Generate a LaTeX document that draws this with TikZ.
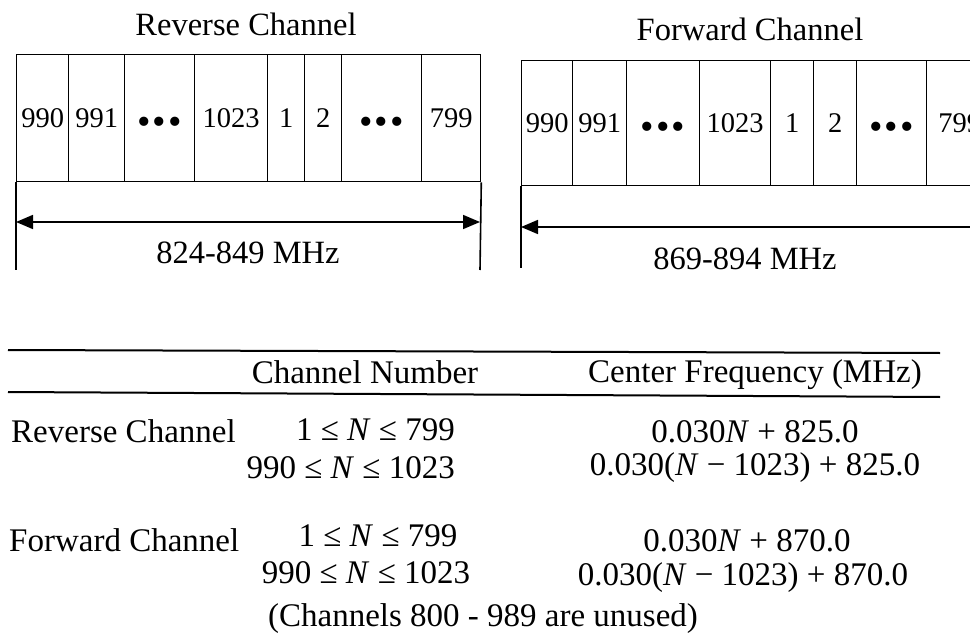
\documentclass[tikz,border=0pt]{standalone}
\usepackage{fontspec}
\setmainfont{Liberation Serif}
\usetikzlibrary{arrows.meta}
\newcommand\onedot{\raisebox{-7pt}[0pt][0pt]{\scalebox{1.35}{\textbullet}}}
\newcommand\tridots{\vphantom{0}\onedot\kern2pt\onedot\kern2pt\onedot}
\begin{document}
\begin{tikzpicture}[x=1pt,y=-1pt,
  cell/.style={draw, line width=1.3pt, anchor=north west, inner sep=0pt, font=\fontsize{28.5}{28.5}\selectfont},
  frame/.style={line width=1.6pt},
  span/.style={line width=1.6pt, {Triangle[length=17pt,width=14pt]}-{Triangle[length=17pt,width=14pt]}},
  title/.style={font=\fontsize{32.5}{32.5}\selectfont},
  tab/.style={font=\fontsize{33}{33}\selectfont, inner sep=0pt},
  rule/.style={line width=2pt}]
\useasboundingbox (0,0) rectangle (970,642);
\clip (0,0) rectangle (970,642);
% ---------- Reverse channel block ----------
\node[title] (rt) at (246,24) {Reverse Channel};
\foreach \a/\b/\t [count=\i] in {16/68/990,68/124/991,124/194/\tridots,194/267/1023,267/304/1,304/341/2,341/421/\tridots,421/480/799}{
  \pgfmathsetmacro\w{\b-\a}
  \node[cell, minimum width=\w pt, minimum height=127pt] (rc\i) at (\a,54) {\t};
}
\coordinate (rl) at (16,270);
\coordinate (rr) at (480,270);
\coordinate (ra) at (16,222);
\coordinate (rb) at (480,222);
\draw[frame] (rc1.south west) -- (rl);
\draw[frame] (rc8.south east) -- (rr);
\draw[span] (ra) -- (rb);
\node[title] (rf) at (248,253) {824-849 MHz};
% ---------- Forward channel block ----------
\node[title] (ft) at (750,29) {Forward Channel};
\foreach \a/\b/\t [count=\i] in {521/572/990,572/626/991,626/699/\tridots,699/770/1023,770/813/1,813/856/2,856/926/\tridots,926/992/799}{
  \pgfmathsetmacro\w{\b-\a}
  \node[cell, minimum width=\w pt, minimum height=125pt] (fc\i) at (\a,60) {\t};
}
\coordinate (fl) at (521,268);
\coordinate (fa) at (521,227);
\coordinate (fb) at (1000,227);
\draw[frame] (fc1.south west) -- (fl);
\draw[span] (fa) -- (fb);
\node[title] (ff) at (745,259) {869-894 MHz};
% ---------- Table ----------
\draw[rule] (8,350) -- (940,353);
\draw[rule] (8,392) -- (940,397);
\node[tab] (h1) at (365,372) {Channel Number};
\node[tab] (h2) at (755,375) {Center Frequency (MHz)};
\node[tab, anchor=west] (r1) at (11,431) {Reverse Channel};
\node[tab, anchor=east] (r1a) at (455,430) {1 ≤ \textit{N} ≤ 799};
\node[tab, anchor=east] (r1b) at (455,468) {990 ≤ \textit{N} ≤ 1023};
\node[tab] (r1c) at (755,432) {0.030\textit{N} + 825.0};
\node[tab] (r1d) at (755,468) {0.030(\textit{N} − 1023) + 825.0};
\node[tab, anchor=west] (r2) at (9,540) {Forward Channel};
\node[tab] (r2a) at (378,536) {1 ≤ \textit{N} ≤ 799};
\node[tab] (r2b) at (366,573) {990 ≤ \textit{N} ≤ 1023};
\node[tab] (r2c) at (747,541) {0.030\textit{N} + 870.0};
\node[tab] (r2d) at (743,578) {0.030(\textit{N} − 1023) + 870.0};
\node[tab] (note) at (483,619) {(Channels 800 - 989 are unused)};
\end{tikzpicture}
\end{document}
